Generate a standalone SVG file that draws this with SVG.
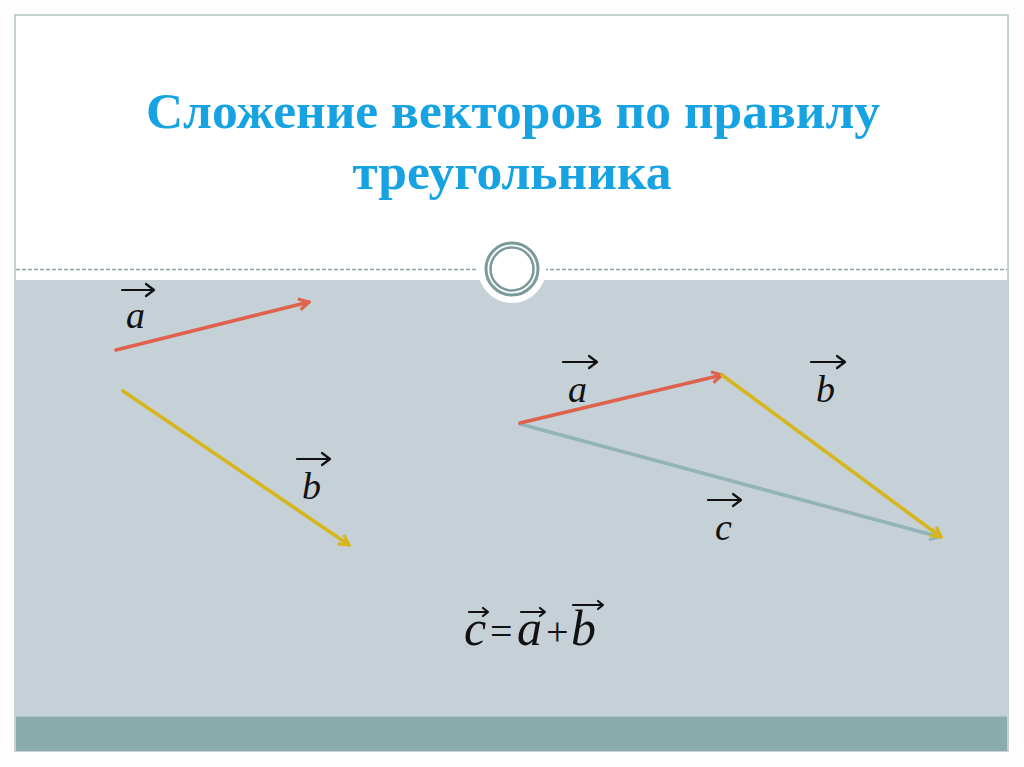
<svg xmlns="http://www.w3.org/2000/svg" width="1024" height="767" viewBox="0 0 1024 767">
<style>
.title{font-family:"Liberation Serif","Times New Roman",serif;font-weight:bold;font-size:51.5px;fill:#17a3e2;text-anchor:middle}
.lbl{font-family:"Liberation Serif","Times New Roman",serif;font-style:italic;font-size:38px;fill:#111}
.frm{font-family:"Liberation Serif","Times New Roman",serif;font-size:50px;fill:#111}
.op{font-size:40px}
.acc{fill:none;stroke:#111;stroke-width:2.2;stroke-linecap:round;stroke-linejoin:round}
.vr{fill:none;stroke:#df624c;stroke-width:3.6;stroke-linecap:round}
.vy{fill:none;stroke:#d6b61c;stroke-width:3.6;stroke-linecap:round}
.vt{fill:none;stroke:#93b3b7;stroke-width:3.6;stroke-linecap:round}
</style>
<defs>
<marker id="mr" viewBox="0 0 14 14" refX="12" refY="7" markerWidth="14" markerHeight="14" markerUnits="userSpaceOnUse" orient="auto">
<path d="M2,1.5 L12,7 L2,12.5" fill="none" stroke="#df624c" stroke-width="3.2" stroke-linejoin="round"/>
</marker>
<marker id="my" viewBox="0 0 14 14" refX="12" refY="7" markerWidth="14" markerHeight="14" markerUnits="userSpaceOnUse" orient="auto">
<path d="M2,1.5 L12,7 L2,12.5" fill="none" stroke="#d6b61c" stroke-width="3.2" stroke-linejoin="round"/>
</marker>
<marker id="mt" viewBox="0 0 14 14" refX="12" refY="7" markerWidth="14" markerHeight="14" markerUnits="userSpaceOnUse" orient="auto">
<path d="M2,1.5 L12,7 L2,12.5" fill="none" stroke="#93b3b7" stroke-width="3.2" stroke-linejoin="round"/>
</marker>
</defs>
<rect x="0" y="0" width="1024" height="767" fill="#fdfdfd"/>
<g id="frame">
<rect x="15" y="15" width="993" height="736" fill="#ffffff" stroke="#b4c2c4" stroke-width="1.5"/>
<rect x="16" y="280" width="991" height="436" fill="#c5d1d7"/>
<rect x="16" y="716" width="991" height="35" fill="#8aacac"/>
<line x1="16" y1="716.5" x2="1007" y2="716.5" stroke="#a9c2c4" stroke-width="1"/>
<line x1="16" y1="269.5" x2="1007" y2="269.5" stroke="#8fa3a5" stroke-width="1.5" stroke-dasharray="4,2"/>
<circle cx="512" cy="269" r="34" fill="#ffffff"/>
<circle cx="512" cy="269" r="26" fill="none" stroke="#7b9a9b" stroke-width="3"/>
<circle cx="512" cy="269" r="21.5" fill="none" stroke="#7b9a9b" stroke-width="2.5"/>
</g>
<g id="title">
<text class="title" x="513" y="128">Сложение векторов по правилу</text>
<text class="title" x="512" y="189">треугольника</text>
</g>
<g id="connectors">
<line class="vr" x1="116" y1="350" x2="309" y2="302" marker-end="url(#mr)"/>
<line class="vy" x1="123" y1="391" x2="349" y2="545" marker-end="url(#my)"/>
<line class="vt" x1="520" y1="424" x2="940" y2="537" marker-end="url(#mt)"/>
<line class="vr" x1="520" y1="423" x2="722" y2="375" marker-end="url(#mr)"/>
<line class="vy" x1="722" y1="375" x2="941" y2="537" marker-end="url(#my)"/>
</g>
<g id="label-a-left">
<path class="acc" d="M122,290 H153 M146,284 L154,290 L146,296"/>
<text class="lbl" x="126" y="328">a</text>
</g>
<g id="label-b-left">
<path class="acc" d="M297,459 H329 M322,453 L330,459 L322,465"/>
<text class="lbl" x="302" y="499">b</text>
</g>
<g id="label-a-right">
<path class="acc" d="M563,362 H596 M589,356 L597,362 L589,368"/>
<text class="lbl" x="568" y="402">a</text>
</g>
<g id="label-b-right">
<path class="acc" d="M811,362 H844 M837,356 L845,362 L837,368"/>
<text class="lbl" x="816" y="402">b</text>
</g>
<g id="label-c">
<path class="acc" d="M708,500 H740 M733,494 L741,500 L733,506"/>
<text class="lbl" x="715" y="540">c</text>
</g>
<g id="formula">
<text class="frm" y="645"><tspan x="464" font-style="italic">c</tspan><tspan x="490" class="op">=</tspan><tspan x="517" font-style="italic">a</tspan><tspan x="546" class="op">+</tspan><tspan x="571" font-style="italic">b</tspan></text>
<path class="acc" stroke-width="2" d="M469,612 H488 M483,608 L488,612 L483,616"/>
<path class="acc" stroke-width="2" d="M521,612 H545 M540,608 L545,612 L540,616"/>
<path class="acc" stroke-width="2" d="M573,605 H603 M598,601 L603,605 L598,609"/>
</g>
</svg>
